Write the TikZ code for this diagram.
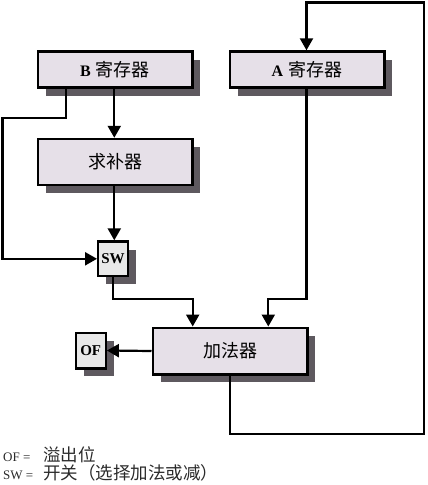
\documentclass[tikz,border=0pt]{standalone}
\usepackage{fontspec}
\setmainfont{Liberation Serif}
\newfontfamily\cjk{Noto Sans CJK SC}
\usetikzlibrary{arrows.meta,shadows}
\definecolor{boxfill}{HTML}{E6E0E8}
\definecolor{smallfill}{HTML}{E8E8E8}
\definecolor{shadowgray}{HTML}{5E595F}
\definecolor{legendgray}{HTML}{2A2A2A}
\tikzset{
  bigbox/.style={draw=black, line width=2.4pt, fill=boxfill, inner sep=0pt,
    minimum width=154.6pt, minimum height=36pt,
    font=\fontsize{18pt}{20pt}\selectfont\cjk,
    drop shadow={shadow xshift=8pt, shadow yshift=-8pt, fill=shadowgray, opacity=1}},
  smallbox/.style={draw=black, line width=2.4pt, fill=smallfill, inner sep=0pt,
    minimum width=29.5pt, minimum height=34.5pt,
    font=\fontsize{15pt}{17pt}\selectfont\rmfamily\bfseries,
    drop shadow={shadow xshift=8pt, shadow yshift=-8pt, fill=shadowgray, opacity=1}},
  conn/.style={line width=2.2pt, draw=black},
  arr/.style={conn, -{Triangle[length=12pt,width=13pt]}},
  legend/.style={anchor=west, inner sep=0pt, text=legendgray}
}
\newcommand{\latinb}[1]{{\fontsize{16pt}{18pt}\selectfont\rmfamily\bfseries #1}}
\newcommand{\lgkey}[1]{\makebox[40pt][l]{\fontsize{13pt}{15pt}\selectfont #1}}
\begin{document}
\begin{tikzpicture}[x=1pt,y=-1pt]
\useasboundingbox (0,0) rectangle (428,485);
% boxes
\node[bigbox] (B) at (115,69.5) {\latinb{B}\hspace{5pt}寄存器};
\node[bigbox] (A) at (307,69.5) {\latinb{A}\hspace{5pt}寄存器};
\node[bigbox, minimum height=46pt] (comp) at (115,162) {求补器};
\node[smallbox] (sw) at (113,258.8) {SW};
\node[bigbox, minimum height=46.6pt] (add) at (230,351) {加法器};
\node[smallbox, minimum width=30pt, minimum height=35.6pt] (of) at (90.7,350.5) {OF};
% helper coordinates
\coordinate (bl1) at (66,118.3);
\coordinate (bl2) at (2.5,118.3);
\coordinate (swdown) at (113,299);
\coordinate (adown) at (306.5,299);
\coordinate (addbot) at (230,434.3);
\coordinate (rbot) at (424,434.3);
\coordinate (rtop) at (424,2.5);
\coordinate (atop) at (306.5,2.5);
% connectors
\draw[arr] (B.south -| bl1) -- (bl1) -- (bl2) |- (sw.west);
\draw[arr] (B.south -| 114.3,0) -- (comp.north -| 114.3,0);
\draw[arr] (comp.south -| 114.3,0) -- (sw.north -| 114.3,0);
\draw[arr] (sw.south) -- (swdown) -| (add.north -| 192.7,0);
\draw[arr] (A.south -| adown) -- (adown) -| (add.north -| 268.3,0);
\draw[arr] (add.west) -- (of.east);
\draw[arr] (add.south) -- (addbot) -- (rbot) -- (rtop) -- (atop) -- (A.north -| atop);
% legend
\node[legend] (l1) at (3,455) {\lgkey{OF =}{\fontsize{17.5pt}{19pt}\selectfont\cjk 溢出位}};
\node[legend] (l2) at (3,473) {\lgkey{SW =}{\fontsize{17.5pt}{19pt}\selectfont\cjk 开关\makebox[17.5pt][r]{（}选择加法或减\makebox[17.5pt][l]{）}}};
\end{tikzpicture}
\end{document}
